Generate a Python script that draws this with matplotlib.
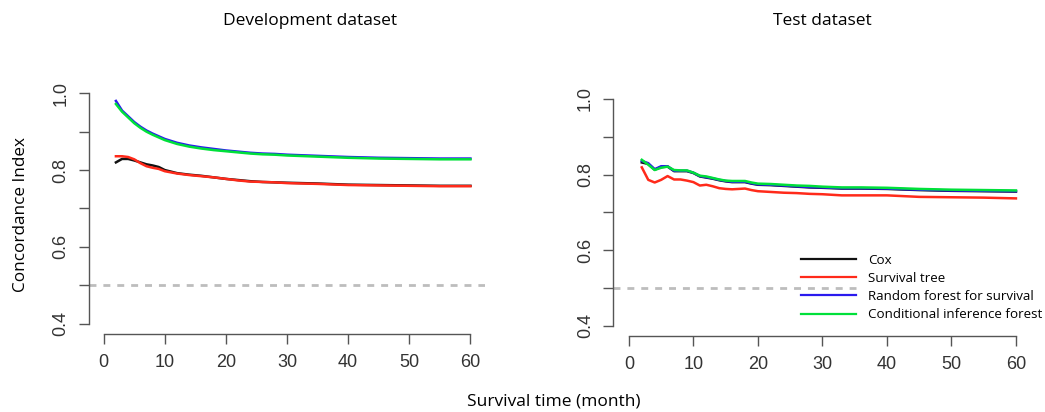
import matplotlib.pyplot as plt

# ---- data ----
dev_months = [2, 3, 4, 5, 6, 7, 8, 9, 10, 12, 14, 16, 18, 20, 22, 24, 26, 28, 30, 35, 40, 45, 50, 55, 60]
dev_cox = [0.820, 0.829, 0.829, 0.825, 0.820, 0.815, 0.812, 0.808, 0.800, 0.792, 0.788, 0.785, 0.781,
           0.777, 0.774, 0.771, 0.769, 0.768, 0.767, 0.765, 0.762, 0.761, 0.760, 0.759, 0.759]
dev_tree = [0.836, 0.836, 0.834, 0.828, 0.818, 0.810, 0.806, 0.803, 0.797, 0.791, 0.787, 0.784, 0.781,
            0.777, 0.773, 0.770, 0.769, 0.768, 0.766, 0.764, 0.761, 0.760, 0.759, 0.758, 0.758]
dev_rsf = [0.980, 0.955, 0.940, 0.925, 0.913, 0.903, 0.895, 0.888, 0.881, 0.871, 0.864, 0.859, 0.855,
           0.851, 0.848, 0.845, 0.843, 0.842, 0.840, 0.837, 0.834, 0.832, 0.831, 0.830, 0.830]
dev_cif = [0.972, 0.952, 0.937, 0.922, 0.910, 0.900, 0.892, 0.885, 0.878, 0.868, 0.861, 0.856, 0.852,
           0.849, 0.846, 0.843, 0.841, 0.840, 0.838, 0.835, 0.832, 0.830, 0.829, 0.828, 0.828]

test_months = [2, 3, 4, 5, 6, 7, 8, 9, 10, 11, 12, 13, 14, 15, 16, 17, 18, 19, 20, 22, 24, 26, 28, 30,
               33, 36, 40, 45, 50, 55, 60]
test_cox = [0.832, 0.828, 0.813, 0.820, 0.821, 0.809, 0.809, 0.809, 0.804, 0.795, 0.792, 0.789, 0.785,
            0.782, 0.780, 0.780, 0.780, 0.776, 0.773, 0.772, 0.770, 0.768, 0.766, 0.765, 0.763, 0.763,
            0.762, 0.759, 0.757, 0.756, 0.755]
test_tree = [0.819, 0.786, 0.779, 0.786, 0.796, 0.787, 0.787, 0.784, 0.780, 0.771, 0.773, 0.769, 0.764,
             0.762, 0.761, 0.762, 0.763, 0.759, 0.756, 0.754, 0.752, 0.751, 0.749, 0.748, 0.745, 0.745,
             0.745, 0.741, 0.740, 0.739, 0.737]
test_rsf = [0.836, 0.830, 0.814, 0.822, 0.822, 0.810, 0.810, 0.810, 0.805, 0.796, 0.793, 0.790, 0.786,
            0.783, 0.781, 0.781, 0.781, 0.777, 0.774, 0.773, 0.771, 0.769, 0.767, 0.766, 0.764, 0.764,
            0.763, 0.760, 0.758, 0.757, 0.756]
test_cif = [0.839, 0.826, 0.812, 0.818, 0.821, 0.812, 0.811, 0.811, 0.805, 0.797, 0.795, 0.791, 0.787,
            0.784, 0.783, 0.783, 0.783, 0.779, 0.776, 0.775, 0.773, 0.771, 0.770, 0.768, 0.766, 0.766,
            0.765, 0.762, 0.760, 0.759, 0.758]

labels = ["Cox", "Survival tree", "Random forest for survival", "Conditional inference forest"]
colors = ["#111111", "#ff2a1a", "#2a1aee", "#00e03a"]
x_ticks = [0, 10, 20, 30, 40, 50, 60]
y_ticks = [0.4, 0.5, 0.6, 0.7, 0.8, 0.9, 1.0]
y_tick_labels = ["0.4", "", "0.6", "", "0.8", "", "1.0"]
chance_level = 0.5

label_font = "Open Sans"
tick_font = "Liberation Sans"


def draw_panel(ax, months, series, ref_end=1.0):
    # reference line at C = 0.5 (cut short where the legend sits on the right panel)
    ax.axhline(chance_level, xmax=ref_end, color="#bdbdbd", lw=2, ls=(0, (2.5, 2.5)), zorder=1)
    for vals, lab, col in zip(series, labels, colors):
        ax.plot(months, vals, color=col, lw=1.8, label=lab, zorder=2)

    # R-style detached axes
    ax.set_xlim(-2.4, 62.4)
    ax.set_ylim(0.376, 1.024)
    for s in ["top", "right"]:
        ax.spines[s].set_visible(False)
    ax.spines["left"].set_bounds(0.4, 1.0)
    ax.spines["bottom"].set_bounds(0, 60)
    ax.spines["bottom"].set_position(("outward", 1))
    for s in ["left", "bottom"]:
        ax.spines[s].set_color("#555555")
        ax.spines[s].set_linewidth(1.0)
    ax.set_xticks(x_ticks)
    ax.set_yticks(y_ticks)
    ax.set_yticklabels(y_tick_labels, rotation=90, va="center")
    ax.tick_params(colors="#555555", labelcolor="#333333", labelsize=13, length=7, width=1.0, pad=7)
    for t in ax.get_xticklabels() + ax.get_yticklabels():
        t.set_fontfamily(tick_font)


fig = plt.figure(figsize=(10.45, 4.12), dpi=100)
ax1 = fig.add_axes([0.0852, 0.192, 0.379, 0.604])
ax2 = fig.add_axes([0.587, 0.187, 0.400, 0.595])

draw_panel(ax1, dev_months, [dev_cox, dev_tree, dev_rsf, dev_cif])
draw_panel(ax2, test_months, [test_cox, test_tree, test_rsf, test_cif], ref_end=0.58)

leg = ax2.legend(loc="upper left", bbox_to_anchor=(801 / 1045, 1 - 254 / 412),
                 bbox_transform=fig.transFigure, frameon=False,
                 handlelength=4.1, handletextpad=0.95, labelspacing=0.38,
                 borderaxespad=0, borderpad=0,
                 prop={"family": label_font, "size": 9.6})
for ln in leg.get_lines():
    ln.set_linewidth(1.6)

fig.text(310 / 1045, 1 - 21 / 412, "Development dataset", ha="center", va="center",
         fontsize=12.5, family=label_font)
fig.text(822 / 1045, 1 - 21 / 412, "Test dataset", ha="center", va="center",
         fontsize=12.5, family=label_font)
fig.text(21 / 1045, 1 - 215 / 412, "Concordance Index", ha="center", va="center",
         rotation=90, fontsize=12.3, family=label_font)
fig.text(554 / 1045, 1 - 401 / 412, "Survival time (month)", ha="center", va="center",
         fontsize=12.5, family=label_font)

fig.savefig("out.png", dpi=100)
